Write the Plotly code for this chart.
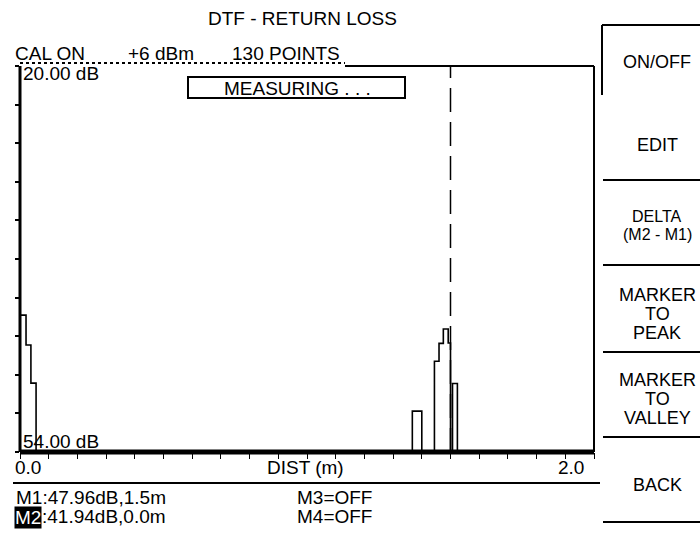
import plotly.graph_objects as go

# ---- data ----
dist_m = [0.000, 0.021, 0.038, 0.056, 1.367, 1.400, 1.444, 1.460, 1.475, 1.492, 1.500, 1.507, 1.524, 2.000]
return_loss_db = [41.94, 44.58, 47.93, 54.00, 50.40, 54.00, 46.00, 44.43, 43.17, 44.40, 54.00, 47.96, 54.00, 54.00]

y_top_db = 20.0
y_bottom_db = 54.0
x_start_m = 0.0
x_stop_m = 2.0
m1_dist_m = 1.5

header_texts = ["CAL ON", "+6 dBm", "130 POINTS"]
marker_texts = ["M1:47.96dB,1.5m", ":41.94dB,0.0m", "M3=OFF", "M4=OFF"]
softkeys = ["ON/OFF", "EDIT", "DELTA", "(M2 - M1)", "MARKER", "TO", "PEAK",
            "MARKER", "TO", "VALLEY", "BACK"]

# ---- layout geometry (pixels) ----
W, H = 700, 535
L, R, T, B = 20, 106, 66, 83
PX0, PX1, PY0, PY1 = L, W - R, T, H - B


def px(x):
    return (x - PX0) / (PX1 - PX0)


def py(y):
    return (PY1 - y) / (PY1 - PY0)


FONT = "Liberation Sans, Arial, sans-serif"

fig = go.Figure()
fig.add_trace(go.Scatter(
    x=dist_m, y=return_loss_db, mode="lines", line_shape="hv",
    line=dict(color="black", width=1.6), showlegend=False, hoverinfo="skip"))

annotations = []


def txt(text, x, y, anchor="left", size=19, color="black", bg=None):
    a = dict(text=text, x=px(x), y=py(y), xref="paper", yref="paper",
             xanchor=anchor, yanchor="middle", showarrow=False,
             font=dict(family=FONT, size=size, color=color))
    if bg:
        a["bgcolor"] = bg
        a["borderpad"] = 0
    annotations.append(a)


txt("DTF - RETURN LOSS", 302, 18, "center")
txt(header_texts[0], 13, 53)
txt(header_texts[1], 126, 53)
txt(header_texts[2], 230, 53)
txt("20.00 dB", 21, 74)
txt("MEASURING . . .", 297, 88, "center")
txt("54.00 dB", 21, 441)
txt("0.0", 13, 468)
txt("DIST (m)", 265, 468)
txt("2.0", 571, 468, "center")
txt(marker_texts[0], 14, 497)
txt("M2", 14, 517, color="white", bg="black")
txt(marker_texts[1], 40, 516)
txt(marker_texts[2], 295, 497)
txt(marker_texts[3], 295, 516)

key_y = [62, 145, 216, 234, 295, 314, 333, 380, 399, 418, 485]
key_size = [18, 18, 16, 16, 18, 18, 18, 18, 18, 18, 18]
for k, yy, sz in zip(softkeys, key_y, key_size):
    txt(k, 657, yy, "center", size=sz)

shapes = []


def line(x0, y0, x1, y1, w=2, dash="solid"):
    shapes.append(dict(type="line", xref="paper", yref="paper",
                       x0=px(x0), y0=py(y0), x1=px(x1), y1=py(y1),
                       line=dict(color="black", width=w, dash=dash)))


# plot frame
line(PX0, PY0, PX0, PY1, 3)
line(PX0, PY1, PX1, PY1, 5)
line(345, PY0, PX1, PY0, 2)
line(PX0, 63, 345, 63, 2, "dot")
line(PX1, PY0, PX1, PY1, 2)
# line under axis labels
line(13, 483, 600, 483, 2)
# MEASURING box
shapes.append(dict(type="rect", xref="paper", yref="paper",
                   x0=px(188), y0=py(77), x1=px(405), y1=py(98),
                   line=dict(color="black", width=2), fillcolor="rgba(0,0,0,0)"))
# softkey panel
line(602, 25, 602, 95, 2)
line(602, 25, 700, 25, 2)
for yy in [180, 265, 352, 437, 522]:
    line(603, yy, 700, yy, 2)
# M1 marker line
shapes.append(dict(type="line", xref="x", yref="paper",
                   x0=m1_dist_m, x1=m1_dist_m, y0=0, y1=1,
                   line=dict(color="black", width=1.5, dash="24px,10px")))

fig.update_layout(
    width=W, height=H,
    margin=dict(l=L, r=R, t=T, b=B, pad=0),
    paper_bgcolor="white", plot_bgcolor="white",
    showlegend=False,
    annotations=annotations, shapes=shapes,
    xaxis=dict(range=[x_start_m, x_stop_m], showgrid=False, zeroline=False,
               showline=False, showticklabels=False, ticks="outside",
               tick0=0, dtick=0.1, ticklen=6, tickwidth=1, tickcolor="black"),
    yaxis=dict(range=[y_bottom_db, y_top_db], showgrid=False, zeroline=False,
               showline=False, showticklabels=False, ticks="outside",
               tick0=y_top_db, dtick=(y_bottom_db - y_top_db) / 10,
               ticklen=4, tickwidth=1.5, tickcolor="black"),
)

fig.write_html("out.html", config={"displayModeBar": False},
               post_script="document.body.style.margin='0';document.body.style.overflow='hidden';")
